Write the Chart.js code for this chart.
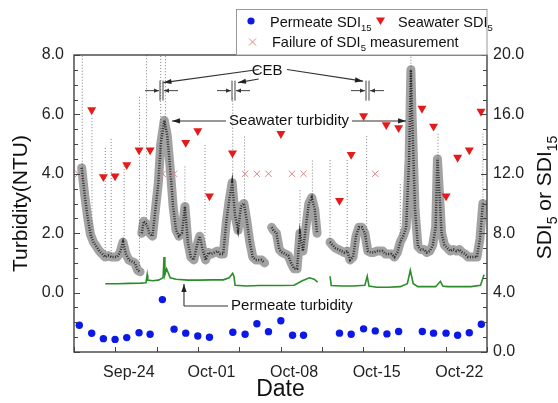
<!DOCTYPE html>
<html><head><meta charset="utf-8">
<script src="https://cdn.jsdelivr.net/npm/chart.js@4.4.1/dist/chart.umd.min.js"></script>
<style>html,body{margin:0;padding:0;background:#fff;}canvas{display:block;}</style>
</head><body>
<canvas id="c" width="558" height="403"></canvas>
<script>
// ---- data (x = day, Sep-24 = 24, Oct-01 = 31 ...) ----
const xTickDays = [24, 31, 38, 45, 52];
const xTickLabels = ['Sep-24', 'Oct-01', 'Oct-08', 'Oct-15', 'Oct-22'];
const yLeftTicks = [0, 2, 4, 6, 8];
const yLeftLabels = ['0.0', '2.0', '4.0', '6.0', '8.0'];
const yRightTicks = [0, 4, 8, 12, 16, 20];
const yRightLabels = ['0.0', '4.0', '8.0', '12.0', '16.0', '20.0'];

const permSdiDays = [19.8, 20.85, 21.84, 22.83, 23.82, 24.86, 25.8, 26.84, 27.83, 28.82, 29.84, 30.83, 32.81, 33.85, 34.85, 35.83, 36.88, 37.87, 38.8, 41.85, 42.84, 43.89, 44.88, 45.87, 46.86, 48.87, 49.82, 50.88, 51.86, 52.85, 53.87];
const permSdi15 = [1.8, 1.26, 0.9, 0.85, 0.97, 1.3, 1.2, 3.53, 1.54, 1.27, 1.08, 0.99, 1.33, 1.2, 1.9, 1.37, 2.1, 1.13, 1.13, 1.27, 1.2, 1.56, 1.42, 1.22, 1.38, 1.38, 1.27, 1.27, 1.13, 1.3, 1.87];

const seaSdiDays = [20.85, 21.84, 22.83, 23.82, 24.86, 25.8, 28.82, 29.84, 30.83, 32.78, 36.88, 41.85, 42.84, 43.89, 45.81, 46.86, 48.84, 49.82, 50.88, 51.86, 52.85, 53.84];
const seaSdi5 = [16.3, 11.8, 11.85, 12.6, 13.6, 13.6, 14.1, 14.9, 10.5, 13.4, 14.7, 10.2, 13.3, 15.9, 15.3, 15.1, 16.4, 15.2, 10.5, 13.1, 13.6, 16.2];

const failDays = [19.71, 26.87, 27.83, 33.85, 34.85, 35.83, 37.82, 38.8, 44.88];
const failSdi5 = [12, 12, 12, 12, 12, 12, 12, 12, 12];

const seaTurbDays = [20.0, 20.25, 20.5, 20.75, 21.0, 21.25, 21.5, 21.75, 22.0, 22.25, 22.5, 22.75, 23.0, 23.25, 23.5, 23.75, 24.0, 24.25, 24.5, 24.75, 24.95, 25.0,
  25.1, 25.25, 25.5, 25.75, 26.0, 26.25, 26.5, 26.7, 27.0, 27.25, 27.5, 27.75, 28.0, 28.25, 28.5, 28.75, 29.0, 29.25, 29.5, 29.75, 30.0, 30.25, 30.5, 30.75, 31.0, 31.25, 31.5, 31.75, 32.0, 32.25, 32.5, 32.75, 33.0, 33.25, 33.5, 33.75, 34.0, 34.25, 34.5, 34.75, 35.0, 35.25, 35.5, 35.8,
  36.1, 36.25, 36.5, 36.75, 37.0, 37.25, 37.5, 37.75, 38.0, 38.25, 38.5, 38.75, 39.0, 39.25, 39.5, 39.75, 39.95, 40.5,
  41.05, 41.25, 41.5, 41.75, 42.0, 42.25, 42.5, 42.75, 43.0, 43.25, 43.5, 43.75, 44.0, 44.25, 44.5, 44.75, 45.0, 45.25, 45.5, 45.75, 46.0, 46.25, 46.5, 46.75, 47.0, 47.25, 47.5, 47.75, 47.9, 48.0, 48.25, 48.5, 48.75, 49.0, 49.25, 49.5, 49.75, 50.0, 50.15, 50.3, 50.5, 50.75, 51.0, 51.25, 51.5, 51.75, 52.0, 52.25, 52.5, 52.75, 53.0, 53.25, 53.5, 53.75, 54.0];
const seaTurb = [4.2, 3.3, 2.55, 1.95, 1.7, 1.55, 1.4, 1.3, 1.2, 1.25, 1.2, 1.2, 1.2, 1.35, 1.7, 1.3, 1.1, 1.05, 1.0, 0.75, 0.7, null,
  2.0, 2.4, 2.3, 2.0, 1.9, 2.8, 3.7, 5.0, 5.8, 5.3, 4.2, 2.9, 2.1, 1.9, 2.0, 2.9, 1.7, 1.2, 1.1, 1.55, 1.9, 1.45, 1.1, 1.35, 1.3, 1.35, 1.4, 1.3, 1.3, 2.35, 3.1, 3.7, 2.6, 2.1, 2.9, 3.0, 2.4, 1.7, 1.2, 1.1, 1.1, 1.1, 1.0, null,
  2.2, 2.1, 2.0, 1.45, 1.35, 1.3, 1.25, 1.0, 0.8, 0.8, 2.0, 1.4, 2.2, 3.0, 3.2, 2.8, 2.0, null,
  1.7, 1.6, 1.5, 1.45, 1.4, 1.35, 1.4, 1.1, 1.2, 1.9, 2.2, 2.2, 2.0, 1.4, 1.35, 1.35, 1.4, 1.4, 1.4, 1.3, 1.3, 1.3, 1.2, 1.35, 1.7, 1.9, 2.2, 4.5, 7.5, 6.0, 2.8, 1.55, 1.45, 1.45, 1.35, 1.4, 1.6, 2.2, 4.5, 3.5, 2.0, 1.6, 1.5, 1.4, 1.45, 1.4, 1.45, 1.35, 1.3, 1.2, 1.2, 1.2, 1.2, 1.8, 3.0];

const spikeDays = [20.05, 20.87, 22.0, 22.5, 23.6, 24.9, 25.5, 26.7, 27.1, 28.75, 30.45, 32.8, 33.8, 38.5, 39.55, 41.05, 42.5, 44.15, 47.0, 47.9, 50.2, 54.0];
const spikeLow = [3.8, 1.9, 1.2, 1.2, 1.6, 0.9, 2.3, 4.5, 5.5, 2.8, 1.2, 3.5, 3.0, 2.0, 3.2, 1.7, 1.4, 1.8, 1.7, 7.0, 4.0, 3.0];
const spikeHigh = [8.0, 5.9, 4.9, 5.2, 4.3, 6.6, 8.0, 8.0, 8.0, 4.25, 5.0, 6.6, 5.3, 3.5, 4.5, 4.5, 4.5, 5.3, 3.7, 8.0, 5.4, 5.4];

const permTurbDays = [22.0, 23.0, 24.0, 25.0, 25.45, 25.55, 25.6, 26.0, 26.5, 26.9, 26.98, 27.05, 27.2, 27.35, 27.5, 28.0, 29.0, 30.0, 31.0, 32.0, 32.5, 32.8, 32.9, 33.0, 34.0, 35.0, 36.0, 37.0, 38.0, 38.7, 39.3, 39.7, 40.0, 40.5,
  41.05, 41.15, 42.0, 43.0, 44.0, 44.2, 44.35, 45.0, 46.0, 47.0, 47.6, 47.85, 48.1, 48.5, 49.0, 50.0, 50.4, 50.6, 51.0, 52.0, 53.0, 53.8, 54.1];
const permTurb = [0.30, 0.30, 0.31, 0.32, 0.33, 0.6, 0.42, 0.40, 0.42, 0.5, 1.2, 0.6, 0.8, 0.65, 0.5, 0.45, 0.42, 0.42, 0.43, 0.43, 0.5, 0.65, 0.55, 0.25, 0.22, 0.24, 0.24, 0.24, 0.25, 0.4, 0.5, 0.45, 0.35, null,
  0.55, 0.24, 0.22, 0.22, 0.25, 0.55, 0.22, 0.18, 0.18, 0.2, 0.3, 0.75, 0.3, 0.2, 0.2, 0.2, 0.38, 0.22, 0.2, 0.2, 0.2, 0.25, 0.6];

const cebDays = [26.73, 32.84, 44.16];

// ---- helpers ----
const FONT = '"Liberation Sans", Arial, sans-serif';
const pts = (xs, ys) => xs.map((x, i) => ({x: x, y: ys[i]}));
const spikePts = [];
spikeDays.forEach((d, i) => { spikePts.push({x: d, y: spikeLow[i]}, {x: d, y: spikeHigh[i]}, {x: d, y: null}); });

const COL = {blue: '#0b18e6', red: '#e31b1b', cross: '#d98585', green: '#2a8c2a', dark: '#333'};

function drawArrow(ctx, x1, y1, x2, y2, hl, hw) {
  ctx.beginPath(); ctx.moveTo(x1, y1); ctx.lineTo(x2, y2); ctx.stroke();
  const a = Math.atan2(y2 - y1, x2 - x1);
  ctx.beginPath();
  ctx.moveTo(x2, y2);
  ctx.lineTo(x2 - hl * Math.cos(a) + hw * Math.sin(a), y2 - hl * Math.sin(a) - hw * Math.cos(a));
  ctx.lineTo(x2 - hl * Math.cos(a) - hw * Math.sin(a), y2 - hl * Math.sin(a) + hw * Math.cos(a));
  ctx.closePath(); ctx.fill();
}
function subText(ctx, parts, x, y, size, subSize, align) {
  let w = 0;
  parts.forEach(p => { ctx.font = (p[1] ? subSize : size) + 'px ' + FONT; w += ctx.measureText(p[0]).width; });
  let cx = align === 'center' ? x - w / 2 : x;
  ctx.textAlign = 'left'; ctx.textBaseline = 'alphabetic';
  parts.forEach(p => {
    ctx.font = (p[1] ? subSize : size) + 'px ' + FONT;
    ctx.fillText(p[0], cx, y + (p[1] ? size * 0.3 : 0));
    cx += ctx.measureText(p[0]).width;
  });
}

const decor = {
  id: 'decor',
  afterDraw(chart) {
    const {ctx, chartArea: ca, scales} = chart;
    const X = v => scales.x.getPixelForValue(v), Y = v => scales.yL.getPixelForValue(v);
    ctx.save();
    // frame
    ctx.strokeStyle = '#333'; ctx.lineWidth = 1.3;
    ctx.strokeRect(ca.left, ca.top, ca.right - ca.left, ca.bottom - ca.top);
    // inward ticks
    ctx.lineWidth = 1; ctx.strokeStyle = '#444';
    for (let v = -2; v <= 8.001; v += 0.5) {
      const y = Math.round(Y(v)) + 0.5, major = Math.abs(v / 2 - Math.round(v / 2)) < 1e-6;
      const L = major ? 6 : 4;
      ctx.beginPath(); ctx.moveTo(ca.left, y); ctx.lineTo(ca.left + L, y);
      ctx.moveTo(ca.right, y); ctx.lineTo(ca.right - L, y); ctx.stroke();
    }
    for (let d = 19.35; d <= 54.36; d += 3.5) {
      const x = Math.round(X(d)) + 0.5;
      ctx.beginPath(); ctx.moveTo(x, ca.bottom); ctx.lineTo(x, ca.bottom - 5); ctx.stroke();
    }
    // legend box
    ctx.strokeStyle = '#999'; ctx.lineWidth = 1;
    ctx.fillStyle = '#fff';
    ctx.fillRect(236, 9, 251, ca.top - 9);
    ctx.strokeRect(236.5, 9.5, ca.right - 236.5, ca.top - 9.5);
    ctx.fillStyle = COL.blue; ctx.beginPath(); ctx.arc(251, 21, 3.6, 0, Math.PI * 2); ctx.fill();
    ctx.fillStyle = COL.red; ctx.beginPath(); ctx.moveTo(376, 17.5); ctx.lineTo(385, 17.5); ctx.lineTo(380.5, 25); ctx.closePath(); ctx.fill();
    ctx.strokeStyle = COL.cross; ctx.beginPath(); ctx.moveTo(249, 38.5); ctx.lineTo(256, 45.5); ctx.moveTo(256, 38.5); ctx.lineTo(249, 45.5); ctx.stroke();
    ctx.fillStyle = '#111';
    subText(ctx, [['Permeate SDI', 0], ['15', 1]], 270, 26.5, 14.5, 9.5, 'left');
    subText(ctx, [['Seawater SDI', 0], ['5', 1]], 398, 26.5, 14.5, 9.5, 'left');
    subText(ctx, [['Failure of SDI', 0], ['5', 1], [' measurement', 0]], 272, 46.5, 14.5, 9.5, 'left');
    // right axis title
    ctx.save(); ctx.translate(543, ca.top + (ca.bottom - ca.top) / 2 - 6); ctx.rotate(-Math.PI / 2);
    ctx.fillStyle = '#111';
    subText(ctx, [['SDI', 0], ['5', 1], [' or SDI', 0], ['15', 1]], 0, 7.5, 21, 14, 'center');
    ctx.restore();
    // CEB markers
    ctx.strokeStyle = '#444'; ctx.fillStyle = '#333'; ctx.lineWidth = 1;
    cebDays.forEach(d => {
      const x = Math.round(X(d)), y = Y(6.8);
      ctx.beginPath(); ctx.moveTo(x - 1, y - 10); ctx.lineTo(x - 1, y + 10); ctx.moveTo(x + 2, y - 10); ctx.lineTo(x + 2, y + 10); ctx.stroke();
      drawArrow(ctx, x - 16, y, x - 2, y, 5, 2.2);
      drawArrow(ctx, x + 17, y, x + 3, y, 5, 2.2);
    });
    // CEB label and leaders
    ctx.font = '15px ' + FONT; ctx.fillStyle = '#111'; ctx.textAlign = 'center'; ctx.textBaseline = 'middle';
    ctx.fillText('CEB', X(35.71), Y(7.46));
    ctx.fillStyle = '#222'; ctx.strokeStyle = '#333'; ctx.lineWidth = 1.1;
    drawArrow(ctx, X(35.0), Y(7.51), X(26.93), Y(7.07), 8, 2.6);
    drawArrow(ctx, X(35.0), Y(7.19), X(33.25), Y(7.07), 8, 2.6);
    drawArrow(ctx, X(37.4), Y(7.51), X(43.84), Y(7.12), 8, 2.6);
    // seawater turbidity
    ctx.font = '15px ' + FONT; ctx.fillStyle = '#111'; ctx.textAlign = 'left'; ctx.textBaseline = 'middle';
    ctx.fillText('Seawater turbidity', X(32.49), Y(5.78));
    ctx.fillStyle = '#222';
    drawArrow(ctx, X(32.23), Y(5.78), X(27.66), Y(5.78), 8, 2.6);
    drawArrow(ctx, X(42.91), Y(5.78), X(47.49), Y(5.78), 8, 2.6);
    // permeate turbidity
    ctx.fillStyle = '#111';
    ctx.fillText('Permeate turbidity', X(32.66), Y(-0.45));
    ctx.beginPath(); ctx.moveTo(X(32.4), Y(-0.45)); ctx.lineTo(X(28.67), Y(-0.45)); ctx.stroke();
    ctx.fillStyle = '#222';
    drawArrow(ctx, X(28.67), Y(-0.45), X(28.67), Y(0.29), 8, 2.6);
    ctx.restore();
  }
};

new Chart(document.getElementById('c'), {
  type: 'scatter',
  data: {
    datasets: [
      {label: 'Seawater turbidity spikes', type: 'line', data: spikePts, yAxisID: 'yL', borderColor: 'rgba(60,60,60,0.65)', borderWidth: 1, borderDash: [1, 2], pointRadius: 0, spanGaps: false, order: 7},
      {label: 'Seawater turbidity band', type: 'line', data: pts(seaTurbDays, seaTurb), yAxisID: 'yL', borderColor: 'rgba(70,70,70,0.5)', borderWidth: 9, borderJoinStyle: 'round', borderCapStyle: 'round', pointRadius: 0, spanGaps: false, order: 6},
      {label: 'Seawater turbidity', type: 'line', data: pts(seaTurbDays, seaTurb), yAxisID: 'yL', borderColor: 'rgba(15,15,15,0.8)', borderWidth: 2.5, borderDash: [1, 1.5], pointRadius: 0, spanGaps: false, order: 5},
      {label: 'Permeate turbidity', type: 'line', data: pts(permTurbDays, permTurb), yAxisID: 'yL', borderColor: COL.green, borderWidth: 1.6, pointRadius: 0, spanGaps: false, order: 4},
      {label: 'Failure of SDI5 measurement', data: pts(failDays, failSdi5), yAxisID: 'yR', pointStyle: 'crossRot', pointRadius: 4.5, borderColor: COL.cross, borderWidth: 1, backgroundColor: COL.cross, order: 3},
      {label: 'Seawater SDI5', data: pts(seaSdiDays, seaSdi5), yAxisID: 'yR', pointStyle: 'triangle', rotation: 180, pointRadius: 5.2, backgroundColor: COL.red, borderColor: COL.red, borderWidth: 0, order: 2},
      {label: 'Permeate SDI15', data: pts(permSdiDays, permSdi15), yAxisID: 'yR', pointStyle: 'circle', pointRadius: 3.7, backgroundColor: COL.blue, borderColor: COL.blue, borderWidth: 0, order: 1}
    ]
  },
  options: {
    responsive: false, animation: false, devicePixelRatio: 1,
    layout: {padding: {top: 55, left: 0, right: 0, bottom: 0}},
    plugins: {legend: {display: false}, tooltip: {enabled: false}},
    scales: {
      x: {
        type: 'linear', position: 'bottom', min: 19.35, max: 54.35,
        grid: {display: false, drawTicks: false}, border: {display: false},
        afterBuildTicks: s => { s.ticks = xTickDays.map(v => ({value: v})); },
        ticks: {autoSkip: false, maxRotation: 0, padding: 11, color: '#222', font: {family: FONT, size: 16}, callback: (v, i) => xTickLabels[i]},
        title: {display: true, text: 'Date', color: '#111', font: {family: FONT, size: 23}, padding: {top: 0, bottom: 0}},
        afterFit: s => { s.height = 51; }
      },
      yL: {
        type: 'linear', position: 'left', min: -2, max: 8,
        grid: {display: false, drawTicks: false}, border: {display: false},
        afterBuildTicks: s => { s.ticks = yLeftTicks.map(v => ({value: v})); },
        ticks: {autoSkip: false, padding: 10, color: '#222', font: {family: FONT, size: 16}, callback: (v, i) => yLeftLabels[i]},
        title: {display: true, text: 'Turbidity(NTU)', color: '#111', font: {family: FONT, size: 21}, padding: {top: 9, bottom: 0}},
        afterFit: s => { s.width = 74; }
      },
      yR: {
        type: 'linear', position: 'right', min: 0, max: 20,
        grid: {display: false, drawTicks: false}, border: {display: false},
        afterBuildTicks: s => { s.ticks = yRightTicks.map(v => ({value: v})); },
        ticks: {autoSkip: false, padding: 6, color: '#222', font: {family: FONT, size: 16}, callback: (v, i) => yRightLabels[i]},
        afterFit: s => { s.width = 71; }
      }
    }
  },
  plugins: [decor]
});
</script>
</body></html>
